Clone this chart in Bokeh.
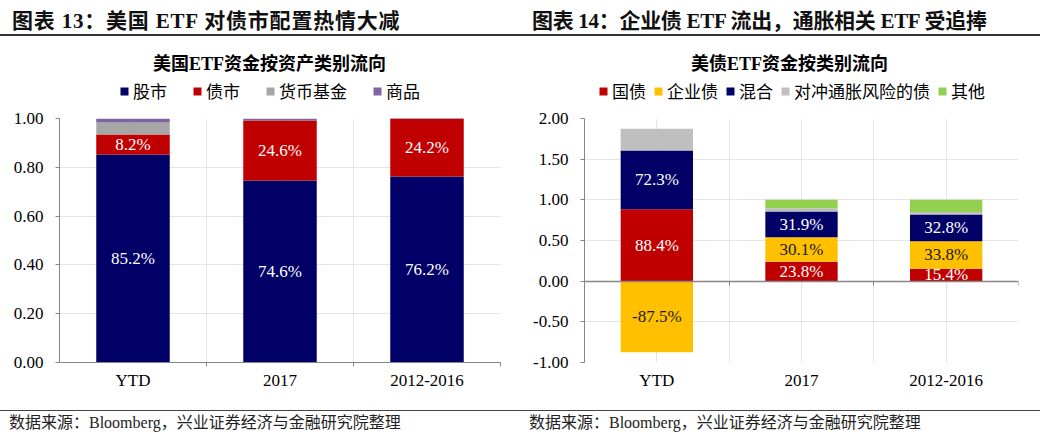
from bokeh.plotting import figure
from bokeh.models import (Range1d, LinearAxis, FixedTicker, Legend, LegendItem, Label,
                          Div, ColumnDataSource, NumeralTickFormatter)
from bokeh.layouts import column, row
from bokeh.embed import file_html
from bokeh.resources import INLINE
from bokeh.core.properties import value

# ---------------- data ----------------
left_categories = ["YTD", "2017", "2012-2016"]
left_names = ["股市", "债市", "货币基金", "商品"]
equity = [0.852, 0.746, 0.762]
bonds = [0.082, 0.246, 0.242]
money = [0.050, 0.000, 0.000]
commodity = [0.016, 0.008, 0.000]
left_ticks = [0.0, 0.2, 0.4, 0.6, 0.8, 1.0]

right_categories = ["YTD", "2017", "2012-2016"]
right_names = ["国债", "企业债", "混合", "对冲通胀风险的债", "其他"]
treasury = [0.884, 0.238, 0.154]
corporate = [-0.875, 0.301, 0.338]
mixed = [0.723, 0.319, 0.328]
inflation = [0.268, 0.040, 0.030]
other = [0.000, 0.102, 0.150]
right_ticks = [-1.0, -0.5, 0.0, 0.5, 1.0, 1.5, 2.0]

left_title = "美国ETF资金按资产类别流向"
right_title = "美债ETF资金按类别流向"
left_header = "图表 13：美国 ETF 对债市配置热情大减"
right_header = "图表 14：企业债 ETF 流出，通胀相关 ETF 受追捧"
source_note = "数据来源：Bloomberg，兴业证券经济与金融研究院整理"

left_colors = ["#000066", "#C00000", "#A6A6A6", "#8064A2"]
right_colors = ["#C00000", "#FFC000", "#000066", "#BFBFBF", "#92D050"]

# ---------------- styles ----------------
SERIF = "'Liberation Serif', 'Noto Sans CJK SC'"
CJK = "'Noto Sans CJK SC'"
AXIS_GREY = "#868686"


def stack(series_list):
    n = len(series_list[0])
    pos = [0.0] * n
    neg = [0.0] * n
    out = []
    for s in series_list:
        b, t = [], []
        for i, v in enumerate(s):
            if v >= 0:
                b.append(pos[i]); t.append(pos[i] + v); pos[i] += v
            else:
                b.append(neg[i]); t.append(neg[i] + v); neg[i] += v
        out.append((b, t))
    return out


def make_head(names, series, colors, title, title_cx, legend_x, legend_spacing):
    """Chart title and legend strip above each chart."""
    n = len(series[0])
    xs = [i + 0.5 for i in range(n)]
    h = figure(width=522, height=70, x_range=Range1d(0, n), y_range=Range1d(0, 1),
               output_backend="svg", toolbar_location=None,
               x_axis_location=None, y_axis_location=None, min_border=0)
    h.outline_line_color = None
    h.grid.visible = False
    items = []
    stacks = stack(series)
    for (name, col), (b, t) in zip(zip(names, colors), stacks):
        src = ColumnDataSource(dict(x=xs, bottom=b, top=t))
        r = h.vbar(x="x", bottom="bottom", top="top", width=0.5, source=src,
                   fill_color=col, line_color=None, visible=False)
        items.append(LegendItem(label=name, renderers=[r]))
    h.add_layout(Label(x=title_cx, y=45, x_units="screen", y_units="screen", text=title,
                       text_align="center", text_baseline="middle", text_font=SERIF,
                       text_font_style="bold", text_font_size="18px", text_color="#000000"))
    legend = Legend(items=items, location=(legend_x, 5), orientation="horizontal",
                    spacing=legend_spacing, padding=0, margin=0, border_line_color=None,
                    background_fill_alpha=0, glyph_width=10, glyph_height=10, label_standoff=4,
                    label_height=17, label_text_font=CJK, label_text_font_size="17px",
                    label_text_color="#000000", click_policy="none",
                    inactive_fill_alpha=0)
    h.add_layout(legend, "center")
    return h


def make_panel(categories, names, series, colors, labelled, label_colors, ticks, yr,
               bl, br, zero_axis):
    n = len(categories)
    xs = [i + 0.5 for i in range(n)]
    p = figure(width=522, height=292, x_range=Range1d(0, n), y_range=Range1d(*yr),
               output_backend="svg", toolbar_location=None,
               x_axis_location=None, y_axis_location=None,
               min_border_left=bl, min_border_right=br, min_border_top=10, min_border_bottom=38)
    p.outline_line_color = None
    p.background_fill_color = "white"
    p.border_fill_color = "white"

    stacks = stack(series)
    lx, ly, lt, lc = [], [], [], []
    for k, (name, s, col) in enumerate(zip(names, series, colors)):
        b, t = stacks[k]
        src = ColumnDataSource(dict(x=xs, bottom=b, top=t))
        p.vbar(x="x", width=0.5, bottom="bottom", top="top", source=src,
               fill_color=col, line_color=None, name=name)
        if labelled[k]:
            for i, v in enumerate(s):
                lx.append(xs[i]); ly.append((b[i] + t[i]) / 2)
                lt.append(f"{v * 100:.1f}%"); lc.append(label_colors[k])

    lsrc = ColumnDataSource(dict(x=lx, y=ly, t=lt, c=lc))
    p.text(x="x", y="y", text="t", source=lsrc, text_color="c", text_align="center",
           text_baseline="middle", text_font=value("Liberation Serif"), text_font_size="17px")

    yaxis = LinearAxis(ticker=FixedTicker(ticks=ticks), formatter=NumeralTickFormatter(format="0.00"))
    yaxis.axis_line_color = AXIS_GREY
    yaxis.major_tick_line_color = AXIS_GREY
    yaxis.major_tick_out = 4
    yaxis.major_tick_in = 0
    yaxis.minor_tick_line_color = None
    yaxis.major_label_text_font = "Liberation Serif"
    yaxis.major_label_text_font_size = "17px"
    yaxis.major_label_text_color = "#000000"
    yaxis.major_label_standoff = 12
    p.add_layout(yaxis, "left")

    xaxis = LinearAxis(ticker=FixedTicker(ticks=xs, minor_ticks=list(range(1, n + 1))),
                       major_label_overrides={x: c for x, c in zip(xs, categories)})
    xaxis.major_tick_line_color = None
    xaxis.major_tick_out = 0
    xaxis.major_label_text_font = "Liberation Serif"
    xaxis.major_label_text_font_size = "17px"
    xaxis.major_label_text_color = "#000000"
    xaxis.major_label_standoff = 4
    if zero_axis:
        xaxis.axis_line_color = None
        xaxis.minor_tick_line_color = None
    else:
        xaxis.axis_line_color = AXIS_GREY
        xaxis.minor_tick_line_color = AXIS_GREY
        xaxis.minor_tick_out = 4
        xaxis.minor_tick_in = 0
    p.add_layout(xaxis, "below")

    if zero_axis:
        zaxis = LinearAxis(fixed_location=0, ticker=FixedTicker(ticks=[], minor_ticks=list(range(1, n + 1))))
        zaxis.axis_line_color = AXIS_GREY
        zaxis.axis_line_width = 1.5
        zaxis.minor_tick_line_color = AXIS_GREY
        zaxis.minor_tick_out = 4
        zaxis.minor_tick_in = 0
        zaxis.major_tick_line_color = None
        zaxis.major_label_text_font_size = "0px"
        p.add_layout(zaxis, "below")
    return p


left_series = [equity, bonds, money, commodity]
right_series = [treasury, corporate, mixed, inflation, other]

h1 = make_head(left_names, left_series, left_colors, left_title, 269, 119, 25)
h2 = make_head(right_names, right_series, right_colors, right_title, 267, 76, 7)

p1 = make_panel(left_categories, left_names, left_series, left_colors,
                [True, True, False, False], ["#FFFFFF", "#FFFFFF", "#FFFFFF", "#FFFFFF"],
                left_ticks, (0, 1.0), 59, 22, False)

p2 = make_panel(right_categories, right_names, right_series, right_colors,
                [True, True, True, False, False], ["#FFFFFF", "#1A1A1A", "#FFFFFF", "#FFFFFF", "#FFFFFF"],
                right_ticks, (-1.0, 2.0), 62, 26, True)

HF = "'Liberation Serif','Noto Sans CJK SC',serif"
header = Div(text=f"""<div style="position:relative;width:1044px;height:38px;">
<div style="position:absolute;left:12px;top:11px;font-family:{HF};font-weight:bold;font-size:21px;line-height:21px;letter-spacing:0.8px;white-space:nowrap;color:#111;">{left_header}</div>
<div style="position:absolute;left:532px;top:11px;font-family:{HF};font-weight:bold;font-size:21px;line-height:21px;letter-spacing:-0.3px;white-space:nowrap;color:#111;">{right_header}</div>
<div style="position:absolute;left:0px;top:34px;width:1040px;height:0;border-top:2px solid #333;"></div>
</div>""", width=1044, height=38, margin=0)

footer = Div(text=f"""<div style="position:relative;width:1044px;height:38px;">
<div style="position:absolute;left:0px;top:10px;width:1040px;height:0;border-top:1.5px solid #444;"></div>
<div style="position:absolute;left:9px;top:15px;font-family:{HF};font-size:16px;line-height:16px;white-space:nowrap;color:#222;">{source_note}</div>
<div style="position:absolute;left:529px;top:15px;font-family:{HF};font-size:16px;line-height:16px;white-space:nowrap;color:#222;">{source_note}</div>
</div>""", width=1044, height=38, margin=0)

layout = column(header, row(h1, h2, spacing=0), row(p1, p2, spacing=0), footer, spacing=0)

open("out.html", "w").write(file_html(layout, INLINE))
